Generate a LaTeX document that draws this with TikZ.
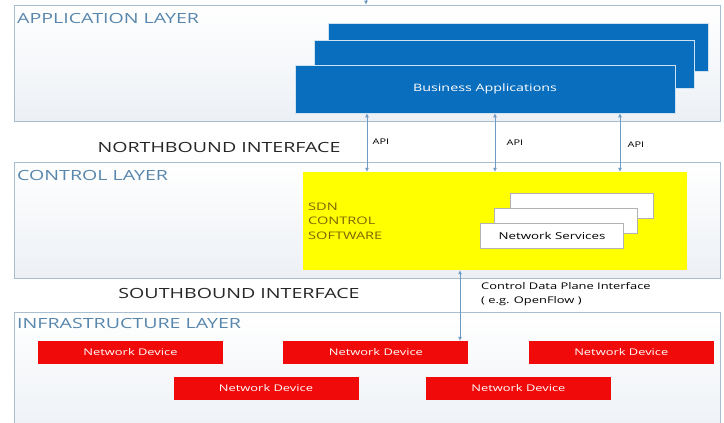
\documentclass[tikz,border=0pt]{standalone}
\usepackage{fontspec}
\setmainfont{Open Sans}[FakeStretch=1.4]
\usepackage{tikz}
\usetikzlibrary{arrows.meta, positioning}

\definecolor{layerline}{RGB}{170,190,210}
\definecolor{layerfill}{RGB}{236,240,245}
\definecolor{layertext}{RGB}{88,134,172}
\definecolor{appblue}{RGB}{10,110,190}
\definecolor{sdnyellow}{RGB}{255,255,0}
\definecolor{sdntext}{RGB}{128,100,0}
\definecolor{devred}{RGB}{240,10,10}
\definecolor{linkblue}{RGB}{110,155,195}

\begin{document}
\begin{tikzpicture}[x=1pt, y=-1pt,
    layerbox/.style={draw=layerline, line width=0.6pt, top color=white, bottom color=layerfill, minimum width=706, minimum height=116},
    layertitle/.style={anchor=west, text=layertext, font=\fontsize{14}{16}\selectfont, inner sep=0pt},
    iface/.style={text=black!85, font=\fontsize{14}{16}\selectfont, inner sep=0pt},
    appbox/.style={draw=white!80!appblue, fill=appblue, line width=0.6pt, minimum width=380, minimum height=48, text=white, font=\fontsize{10.2}{12}\selectfont},
    svcbox/.style={draw=black!30, fill=white, line width=0.4pt, minimum width=143, minimum height=25, font=\fontsize{9.5}{12}\selectfont},
    devbox/.style={fill=devred, minimum width=185, minimum height=23, text=white, font=\fontsize{9.2}{11}\selectfont},
    apilabel/.style={font=\fontsize{7.8}{10}\selectfont, inner sep=0pt},
    link/.style={draw=linkblue, line width=0.7pt, {Latex[length=4pt,width=4pt]}-{Latex[length=4pt,width=4pt]}}]

    \useasboundingbox (0,0) rectangle (724,423);
    \clip (0,0) rectangle (724,423);

    % Layers
    \node (app) [layerbox] at (367,63) {};
    \node (ctrl) [layerbox] at (367,220) {};
    \node (infra) [layerbox, minimum height=130] at (367,377) {};
    \node [layertitle] at (17,18) {APPLICATION LAYER};
    \node [layertitle] at (17,175) {CONTROL LAYER};
    \node [layertitle] at (17,323) {INFRASTRUCTURE LAYER};

    % Interfaces
    \node (north) [iface] at (219,147) {NORTHBOUND INTERFACE};
    \node (south) [iface] at (239,293) {SOUTHBOUND INTERFACE};

    % Business applications
    \node (biz3) [appbox] at (518,47) {};
    \node (biz2) [appbox] at (504,64) {};
    \node (biz) [appbox] at (485,89) {Business Applications};

    % SDN controller
    \node (sdn) [fill=sdnyellow, minimum width=384, minimum height=98] at (495,221) {};
    \node (sdntxt) [anchor=west, align=left, text=sdntext, font=\fontsize{10.4}{14.5}\selectfont, inner sep=0pt] at (308,221) {SDN\\CONTROL\\SOFTWARE};
    \node (svc3) [svcbox] at (582,205.5) {};
    \node (svc2) [svcbox] at (565.5,221) {};
    \node (svc) [svcbox] at (552,236) {Network Services};

    % Network devices
    \node (d1) [devbox] at (130.5,352.5) {Network Device};
    \node (d2) [devbox, right=60pt of d1] {Network Device};
    \node (d3) [devbox, right=60pt of d2] {Network Device};
    \node (d4) [devbox] at (266,388.5) {Network Device};
    \node (d5) [devbox, right=67pt of d4] {Network Device};

    % Edges
    \coordinate (feed) at (366,-10);
    \draw[link, -{Latex[length=4pt,width=4pt]}] (feed) -- (app.north -| feed);
    \foreach \x in {367,495,620}
        \draw[link] (biz.south -| \x,0) -- (sdn.north -| \x,0);
    \draw[link] (sdn.south -| 460,0) -- (d2.north -| 460,0);

    % Labels
    \node (api1) [apilabel] at (381,142) {API};
    \node (api2) [apilabel] at (515,143) {API};
    \node (api3) [apilabel] at (636,145) {API};
    \node (cdpi) [anchor=west, align=left, font=\fontsize{9.2}{14}\selectfont, inner sep=0pt] at (481,294) {Control Data Plane Interface\\( e.g. OpenFlow )};
\end{tikzpicture}
\end{document}
